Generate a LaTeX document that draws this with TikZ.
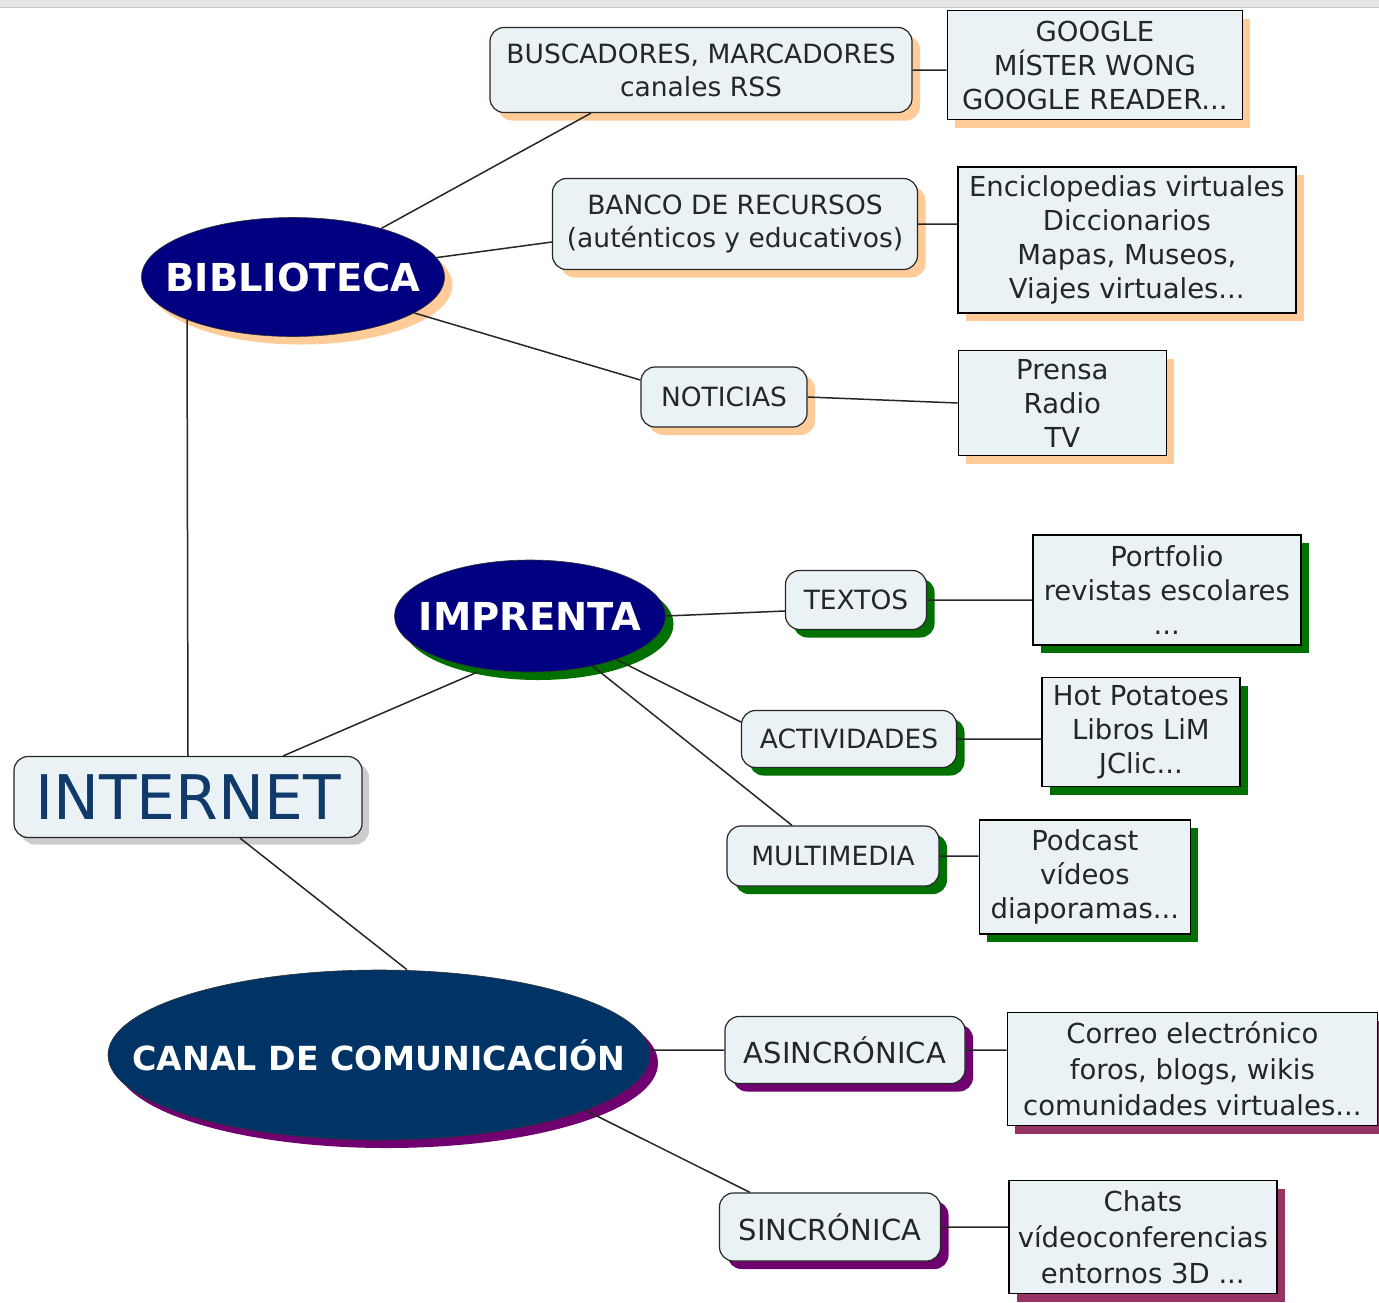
\documentclass[tikz,border=0pt]{standalone}
\usepackage{fontspec}
\setmainfont{DejaVu Sans}
\usetikzlibrary{positioning,shadows,shapes.geometric}
\definecolor{boxfill}{RGB}{234,242,246}
\definecolor{peach}{RGB}{255,204,153}
\definecolor{leafgreen}{RGB}{0,112,0}
\definecolor{plum}{RGB}{112,0,112}
\definecolor{wine}{RGB}{150,50,100}
\definecolor{navyfill}{RGB}{0,0,128}
\definecolor{deepblue}{RGB}{0,51,102}
\definecolor{inkblue}{RGB}{16,58,105}

\begin{document}
\begin{tikzpicture}[x=1pt,y=-1pt]
				\tikzset{topic/.style={ellipse,draw=black!80,line width=0.6pt,text=white,inner xsep=-60pt,inner ysep=0pt,font=\fontsize{38.5}{40}\selectfont\bfseries},
					group/.style={rounded corners=14pt,draw=black!85,line width=1.2pt,fill=boxfill,align=center,inner sep=0pt,text=black!85,font=\fontsize{26.5}{33}\selectfont},
					leaf/.style={draw=black,line width=1.5pt,fill=boxfill,align=center,inner sep=0pt,text=black!85,font=\fontsize{27.5}{34}\selectfont},
					peachshadow/.style={drop shadow={shadow xshift=8pt,shadow yshift=-8pt,fill=peach,opacity=1}},
					greenshadow/.style={drop shadow={shadow xshift=8pt,shadow yshift=-8pt,fill=leafgreen,opacity=1}},
					plumshadow/.style={drop shadow={shadow xshift=8pt,shadow yshift=-8pt,fill=plum,opacity=1}},
					wineshadow/.style={drop shadow={shadow xshift=8pt,shadow yshift=-8pt,fill=wine,opacity=1}},
					link/.style={draw=black!85,line width=1.5pt}}
				\useasboundingbox (0,0) rectangle (1379,1302);
				\fill [black!10] (0,0) rectangle (1379,8);
				\draw [black!22,line width=1.5pt] (0,7.5) -- (1379,7.5);
				% centre and the three topics
				\node [group, text=inkblue, font=\fontsize{61.5}{62}\selectfont, drop shadow={shadow xshift=7pt,shadow yshift=-7pt,fill=black!40}, minimum width=348pt, minimum height=81pt] (internet) at (188,797) {INTERNET};
				\node [topic, fill=navyfill, peachshadow, minimum width=303pt, minimum height=119pt] (biblio) at (293,277) {BIBLIOTECA};
				\node [topic, fill=navyfill, greenshadow, minimum width=271pt, minimum height=112pt] (imprenta) at (530,616) {IMPRENTA};
				\node [topic, fill=deepblue, plumshadow, font=\fontsize{33.2}{34}\selectfont\bfseries, minimum width=542pt, minimum height=170pt] (canal) at (379,1055) {CANAL DE COMUNICACIÓN};
				% biblioteca
				\node [group, peachshadow, minimum width=422pt, minimum height=85pt] (bus) at (701,70) {BUSCADORES, MARCADORES\\canales RSS};
				\node [group, peachshadow, minimum width=365pt, minimum height=91pt] (banco) at (735,224) {BANCO DE RECURSOS\\(auténticos y educativos)};
				\node [group, peachshadow, minimum width=166pt, minimum height=60pt] (noticias) at (724,397) {NOTICIAS};
				\node [leaf, peachshadow, right=34pt of bus, yshift=5pt, minimum width=295pt, minimum height=109pt] (google) {GOOGLE\\MÍSTER WONG\\GOOGLE READER...};
				\node [leaf, peachshadow, right=39pt of banco, yshift=-16pt, minimum width=338pt, minimum height=146pt] (encic) {Enciclopedias virtuales\\Diccionarios\\Mapas, Museos,\\Viajes virtuales...};
				\node [leaf, peachshadow, right=150pt of noticias, yshift=-6pt, minimum width=208pt, minimum height=105pt] (prensa) {Prensa\\Radio\\TV};
				% imprenta
				\node [group, greenshadow, minimum width=141pt, minimum height=59pt] (textos) at (856,600) {TEXTOS};
				\node [group, greenshadow, minimum width=215pt, minimum height=57pt] (activ) at (849,739) {ACTIVIDADES};
				\node [group, greenshadow, minimum width=212pt, minimum height=60pt] (multi) at (833,856) {MULTIMEDIA};
				\node [leaf, greenshadow, right=105pt of textos, yshift=10pt, minimum width=268pt, minimum height=110pt] (portf) {Portfolio\\revistas escolares\\...};
				\node [leaf, greenshadow, right=84pt of activ, yshift=7pt, minimum width=198pt, minimum height=109pt] (hot) {Hot Potatoes\\Libros LiM\\JClic...};
				\node [leaf, greenshadow, right=39pt of multi, yshift=-21pt, minimum width=211pt, minimum height=114pt] (podcast) {Podcast\\vídeos\\diaporamas...};
				% canal de comunicacion
				\node [group, plumshadow, font=\fontsize{29}{33}\selectfont, minimum width=240pt, minimum height=67pt] (asin) at (845,1050) {ASINCRÓNICA};
				\node [group, plumshadow, font=\fontsize{29}{33}\selectfont, minimum width=221pt, minimum height=68pt] (sinc) at (830,1227) {SINCRÓNICA};
				\node [leaf, wineshadow, font=\fontsize{27.5}{36}\selectfont, right=41pt of asin, yshift=-19pt, minimum width=370pt, minimum height=113pt] (correo) {Correo electrónico\\foros, blogs, wikis\\comunidades virtuales...};
				\node [leaf, wineshadow, font=\fontsize{27.5}{36}\selectfont, right=67pt of sinc, yshift=-10pt, minimum width=268pt, minimum height=113pt] (chats) {Chats\\vídeoconferencias\\entornos 3D ...};
				% connectors
				\path [link] (internet.north) -- (biblio.202)
							(internet) -- ([xshift=-53pt]imprenta.south)
							(internet) -- ([xshift=28pt]canal.north)
							(biblio) -- ([xshift=-110pt]bus.south)
							(biblio) -- ([yshift=-18pt]banco.west)
							(biblio) -- ([yshift=17pt]noticias.west)
							(bus.east) -- (bus.east -| google.west)
							(banco.east) -- (banco.east -| encic.west)
							(noticias.east) -- (prensa.west)
							(imprenta.east) -- ([yshift=-11pt]textos.west)
							(imprenta) -- ([yshift=17pt]activ.west)
							(imprenta) -- ([xshift=-41pt]multi.north)
							(textos.east) -- (textos.east -| portf.west)
							(activ.east) -- (activ.east -| hot.west)
							(multi.east) -- (multi.east -| podcast.west)
							(asin.west -| canal.east) -- (asin.west)
							(canal.-15) -- ([xshift=-80pt]sinc.north)
							(asin.east) -- (asin.east -| correo.west)
							(sinc.east) -- (sinc.east -| chats.west);
			\end{tikzpicture}
\end{document}
